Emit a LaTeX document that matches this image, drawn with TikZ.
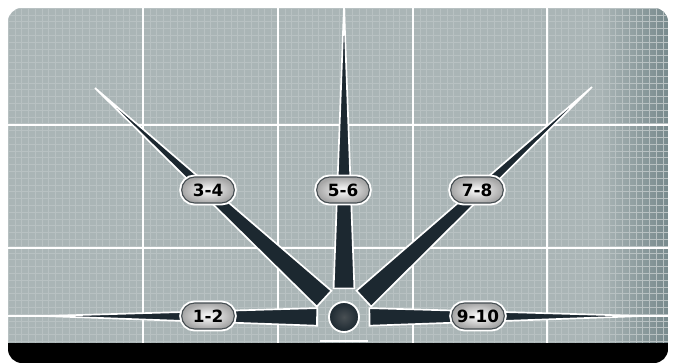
\documentclass[tikz,border=0pt]{standalone}
\usepackage{fontspec}
\newfontfamily\pillfont{DejaVu Sans}
\usetikzlibrary{calc,shapes.misc}

\definecolor{panel}{RGB}{170,181,182}
\definecolor{paneldark}{RGB}{120,138,141}
\definecolor{finegray}{RGB}{184,193,194}
\definecolor{spokefill}{RGB}{28,40,48}
\definecolor{pillring}{RGB}{70,78,82}

\tikzset{
  majorline/.style={white, line width=1.8pt},
  fineline/.style={finegray, line width=0.3pt},
  spoke/.style={fill=spokefill, draw=white, line width=1.2pt},
  pill/.style={rounded rectangle, minimum width=1.55cm, minimum height=0.65cm,
    inner color=white, outer color=gray!70, draw=pillring, line width=0.8pt,
    preaction={draw=white, line width=3.5pt},
    font=\pillfont\bfseries\fontsize{12}{14}\selectfont, text=black}
}

% tapered spoke: tip, base factor, half width
\newcommand{\spoke}[3]{%
  \path ($(hub)!#2!(#1)$) coordinate (sb);
  \filldraw[spoke] ($(sb)!#3!90:(#1)$) -- (#1) -- ($(sb)!#3!-90:(#1)$) -- cycle;
}

\begin{document}
\begin{tikzpicture}[x=0.025cm, y=-0.025cm]
    \useasboundingbox (0,0) rectangle (673,363);
    \fill[white] (0,0) rectangle (673,363);

    % Define the hub and the spoke tips
    \coordinate (hub) at (344,317);
    \coordinate (tip12) at (45,316);
    \coordinate (tip34) at (95,88);
    \coordinate (tip56) at (344,6);
    \coordinate (tip78) at (592,87);
    \coordinate (tip910) at (643,316);
    \coordinate (edgeL) at (8,316);
    \coordinate (edgeR) at (668,316);
    \coordinate (edgeT) at (344,0);

    % Draw the panel with its grid
    \begin{scope}
        \clip[rounded corners=0.35cm] (8,8) rectangle (668,363);
        \fill[panel] (8,8) rectangle (668,343);
        \shade[left color=panel, right color=paneldark] (600,8) rectangle (668,343);
        \foreach \x in {8,14.75,...,668} \draw[fineline] (\x,8) -- (\x,343);
        \foreach \y in {8,14.8,...,343} \draw[fineline] (8,\y) -- (668,\y);
        \fill[black] (8,343) rectangle (668,363);
        \foreach \x in {143,278,413,547} \draw[majorline] (\x,8) -- (\x,343);
        \foreach \y in {125,248} \draw[majorline] (8,\y) -- (668,\y);

        % Draw the spokes
        \draw[white, line width=1.5pt] (tip12) -- (edgeL);
        \draw[white, line width=1.5pt] (tip910) -- (edgeR);
        \draw[white, line width=1.2pt] (tip56) -- (edgeT);
        \spoke{tip12}{0.09}{0.22cm}
        \spoke{tip910}{0.085}{0.22cm}
        \spoke{tip34}{0.08}{0.27cm}
        \spoke{tip78}{0.08}{0.27cm}
        \spoke{tip56}{0.092}{0.26cm}
    \end{scope}

    % Draw the hub
    \node[circle, minimum size=0.75cm, draw=white, line width=1.3pt,
      inner color=spokefill!55!gray, outer color=spokefill] (hubdot) at (hub) {};
    \draw[white, line width=1.5pt] (320,341) -- (368,341);

    % Place the labels
    \node[pill] (l12) at (208,316) {1-2};
    \node[pill] (l34) at (208,190) {3-4};
    \node[pill] (l56) at (343,190) {5-6};
    \node[pill] (l78) at (477,190) {7-8};
    \node[pill] (l910) at (478,316) {9-10};

\end{tikzpicture}
\end{document}
